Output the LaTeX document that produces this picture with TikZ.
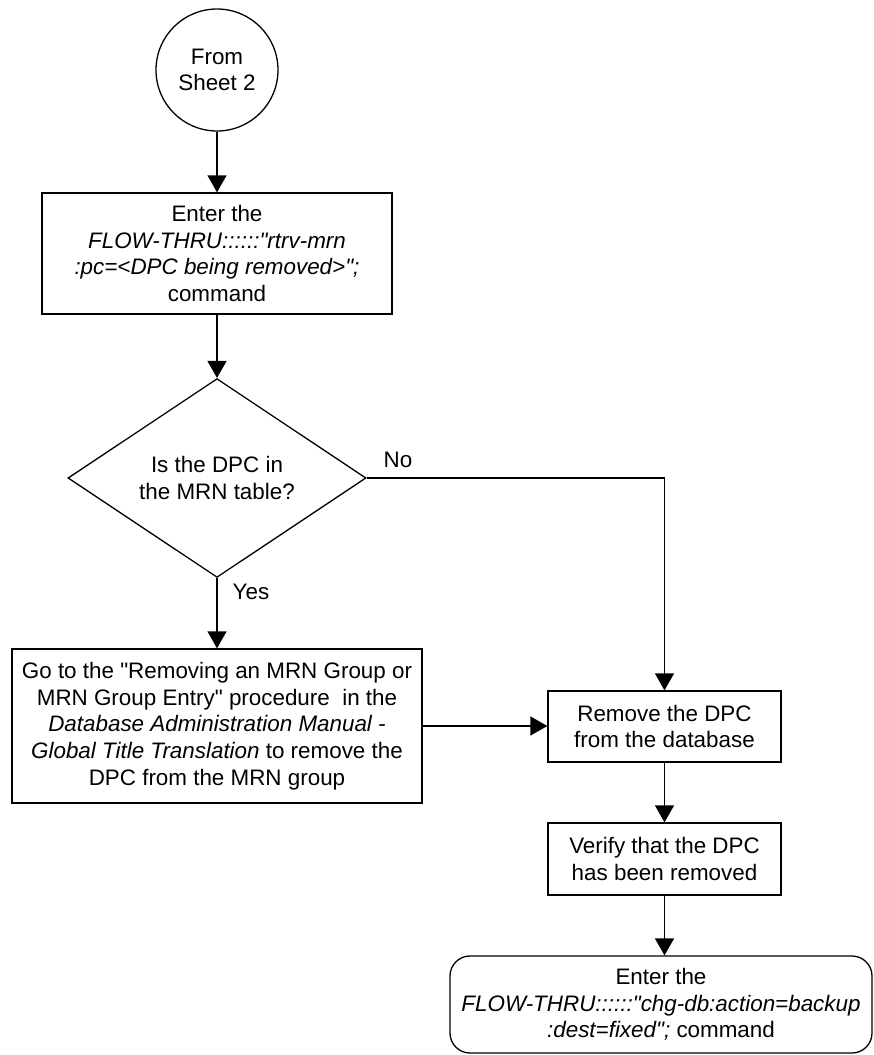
\documentclass[tikz,border=0pt]{standalone}
\usepackage{fontspec}
\newfontfamily\lsans{Liberation Sans}
\usetikzlibrary{arrows.meta,shapes.geometric}
\begin{document}
\begin{tikzpicture}[x=1pt,y=-1pt,
  every node/.style={font=\lsans\fontsize{22.4}{26.7}\selectfont},
  boxstyle/.style={draw,line width=1.3pt,align=center,inner sep=0pt,minimum width=#1},
  arr/.style={line width=1.3pt,-{Triangle[length=17pt,width=19pt]}},
  lbl/.style={inner sep=0pt}]
\useasboundingbox (0,0) rectangle (873,1055);
\node[draw,circle,line width=1.3pt,minimum size=122pt,inner sep=0pt,align=center] (start) at (217,70) {From\\Sheet 2};
\node[boxstyle=350pt,minimum height=121pt] (b1) at (217,253.5) {Enter the\\\textit{FLOW-THRU::::::"rtrv-mrn}\\\textit{:pc=<DPC being removed>";}\\command};
\node[draw,diamond,line width=1.3pt,align=center,inner sep=0pt,minimum width=298pt,minimum height=195pt] (dec) at (217,478) {Is the DPC in\\the MRN table?};
\node[boxstyle=410pt,minimum height=154pt] (b2) at (217,726) {Go to the "Removing an MRN Group or\\MRN Group Entry" procedure\ \ in the\\\textit{Database Administration Manual -}\\\textit{Global Title Translation} to remove the\\DPC from the MRN group};
\node[boxstyle=233pt,minimum height=71pt] (rem) at (664.5,726.5) {Remove the DPC\\from the database};
\node[boxstyle=233pt,minimum height=72pt] (ver) at (664.5,859) {Verify that the DPC\\has been removed};
\node[boxstyle=422pt,minimum height=97pt,rounded corners=20pt] (fin) at (661,1004.5) {Enter the\\\textit{FLOW-THRU::::::"chg-db:action=backup}\\\textit{:dest=fixed";} command};
\node[lbl] (no) at (398,460) {No};
\node[lbl] (yes) at (251,592) {Yes};
\draw[arr] (start) -- (b1);
\draw[arr] (b1) -- (dec);
\draw[arr] (dec.east) -| (rem.north);
\draw[arr] (dec.south) -- (b2.north);
\draw[arr] (b2.east) -- (b2.east -| rem.west);
\draw[arr] (rem) -- (ver);
\draw[arr] (ver.south) -- (ver.south |- fin.north);
\end{tikzpicture}
\end{document}
